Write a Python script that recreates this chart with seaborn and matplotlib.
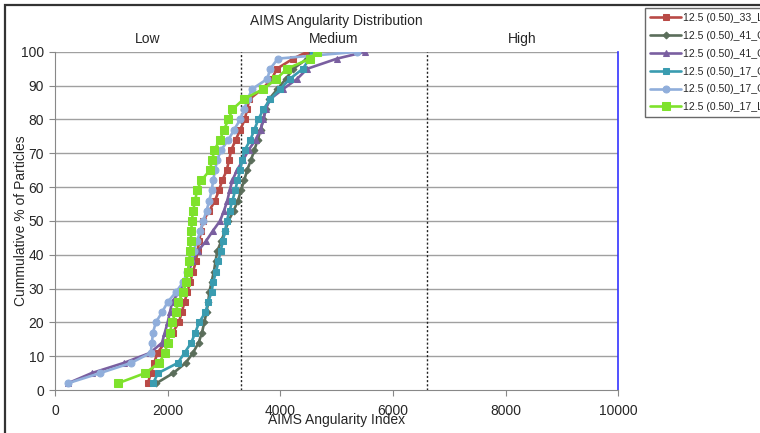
import matplotlib
matplotlib.use("Agg")
import matplotlib.pyplot as plt
import seaborn as sns
import pandas as pd
from matplotlib.patches import Rectangle

# ---------------- data ----------------
cum_pct = [2, 5, 8, 11, 14, 17, 20, 23, 26, 29, 32, 35, 38, 41, 44, 47, 50,
           53, 56, 59, 62, 65, 68, 71, 74, 77, 80, 83, 86, 89, 92, 95, 98, 100]

s33_ls = [1650, 1700, 1760, 1820, 1950, 2090, 2200, 2250, 2300, 2350, 2400, 2450,
          2500, 2530, 2560, 2590, 2630, 2740, 2840, 2910, 2970, 3050, 3090, 3130,
          3210, 3290, 3370, 3410, 3450, 3680, 3850, 3940, 4230, 4480]
s41_gr_a = [1800, 2100, 2320, 2450, 2550, 2610, 2650, 2690, 2720, 2740, 2780, 2820,
            2850, 2880, 2950, 3020, 3080, 3170, 3250, 3300, 3360, 3410, 3480, 3540,
            3600, 3650, 3700, 3740, 3800, 3950, 4100, 4230, 4480, 4560]
s41_gr_b = [230, 650, 1220, 1690, 1900, 1950, 2000, 2040, 2080, 2200, 2300, 2370,
            2440, 2530, 2680, 2800, 2930, 3000, 3060, 3100, 3150, 3230, 3340, 3440,
            3560, 3650, 3700, 3740, 3820, 4050, 4300, 4480, 5010, 5510]
s17_gr_a = [1740, 1830, 2180, 2300, 2420, 2490, 2560, 2670, 2720, 2780, 2810, 2860,
            2900, 2940, 2980, 3020, 3050, 3100, 3150, 3200, 3240, 3290, 3320, 3370,
            3470, 3540, 3610, 3700, 3820, 4000, 4170, 4400, 4520, 4580]
s17_gr_b = [230, 800, 1350, 1700, 1720, 1740, 1790, 1900, 2000, 2150, 2280, 2350,
            2400, 2460, 2520, 2580, 2630, 2690, 2740, 2780, 2810, 2840, 2880, 2950,
            3080, 3180, 3290, 3360, 3420, 3500, 3770, 3820, 3960, 5360]
s17_ls = [1120, 1600, 1850, 1950, 2000, 2040, 2080, 2140, 2190, 2280, 2330, 2360,
          2380, 2400, 2410, 2420, 2430, 2450, 2490, 2520, 2600, 2750, 2790, 2830,
          2930, 3000, 3080, 3150, 3350, 3700, 3930, 4120, 4530, 4650]

labels = ["12.5 (0.50)_33_LS_", "12.5 (0.50)_41_GR", "12.5 (0.50)_41_GR",
          "12.5 (0.50)_17_GR", "12.5 (0.50)_17_GR", "12.5 (0.50)_17_LS_"]
series = [s33_ls, s41_gr_a, s41_gr_b, s17_gr_a, s17_gr_b, s17_ls]

zone_names = ["Low", "Medium", "High"]
zone_edges = [0, 3300, 6600, 10000]
x_ticks = [0, 2000, 4000, 6000, 8000, 10000]
y_ticks = [0, 10, 20, 30, 40, 50, 60, 70, 80, 90, 100]

# ---------------- style ----------------
colors = ["#B94A46", "#5B6E5B", "#7A5FA0", "#3A9CB0", "#90AEDB", "#7EE22C"]
markers = ["s", "D", "^", "s", "o", "s"]
msizes = [5, 3.5, 5, 5, 5, 6]

sns.set_style("white")
plt.rcParams['font.family'] = ['Liberation Sans', 'DejaVu Sans']

fig = plt.figure(figsize=(7.6, 4.33), dpi=100)
ax = fig.add_axes([0.0724, 0.0993, 0.741, 0.781])

for xs, lab, c, m, ms in zip(series, labels, colors, markers, msizes):
    df = pd.DataFrame({"x": xs, "y": cum_pct})
    sns.lineplot(data=df, x="x", y="y", ax=ax, color=c, marker=m, markersize=ms,
                 markeredgecolor=c, linewidth=1.9, sort=False, label=lab,
                 estimator=None)

ax.set_xlim(0, 10000)
ax.set_ylim(0, 100)
ax.set_xticks(x_ticks)
ax.set_yticks(y_ticks)
ax.tick_params(axis="both", labelsize=10, length=4, direction="out", color="#888888",
               bottom=True, left=True, pad=4)
ax.tick_params(axis="x", pad=6)
for yt in y_ticks[1:]:
    ax.axhline(yt, color="#A0A0A0", linewidth=1.0, zorder=0)
for xe in zone_edges[1:3]:
    ax.axvline(xe, color="#222222", linestyle=(0, (1.5, 1.5)), linewidth=1.0, zorder=1)

ax.spines["top"].set_visible(False)
ax.spines["left"].set_color("#888888")
ax.spines["bottom"].set_color("#888888")
ax.spines["right"].set_color("#3333FF")
ax.spines["right"].set_linewidth(1.2)

ax.set_xlabel("AIMS Angularity Index", fontsize=10, labelpad=-3.5)
ax.set_ylabel("Cummulative % of Particles", fontsize=10, labelpad=-5.5)

for name, a, b in zip(zone_names, zone_edges[:-1], zone_edges[1:]):
    ax.text((a + b) / 2, 101.6, name, ha="center", va="bottom", fontsize=10)
ax.text(5000, 107.0, "AIMS Angularity Distribution", ha="center", va="bottom",
        fontsize=10)

leg = ax.legend(loc="upper left", bbox_to_anchor=(645 / 760, 1 - 10 / 433, 0.2, 0.005),
                bbox_transform=fig.transFigure, mode="expand", frameon=True,
                fontsize=7.6, handlelength=2.9, handletextpad=0.2,
                labelspacing=0.74, borderpad=0.5, borderaxespad=0.0)
leg.get_frame().set_edgecolor("#444444")
leg.get_frame().set_linewidth(1.0)
leg.get_frame().set_boxstyle("square", pad=0)

# outer chart border
fig.patches.append(Rectangle((5 / 760, -0.05), 1.2, 1 - 5 / 433 + 0.05,
                             transform=fig.transFigure, fill=False,
                             edgecolor="#333333", linewidth=1.6))

fig.savefig("out.png", dpi=100)
